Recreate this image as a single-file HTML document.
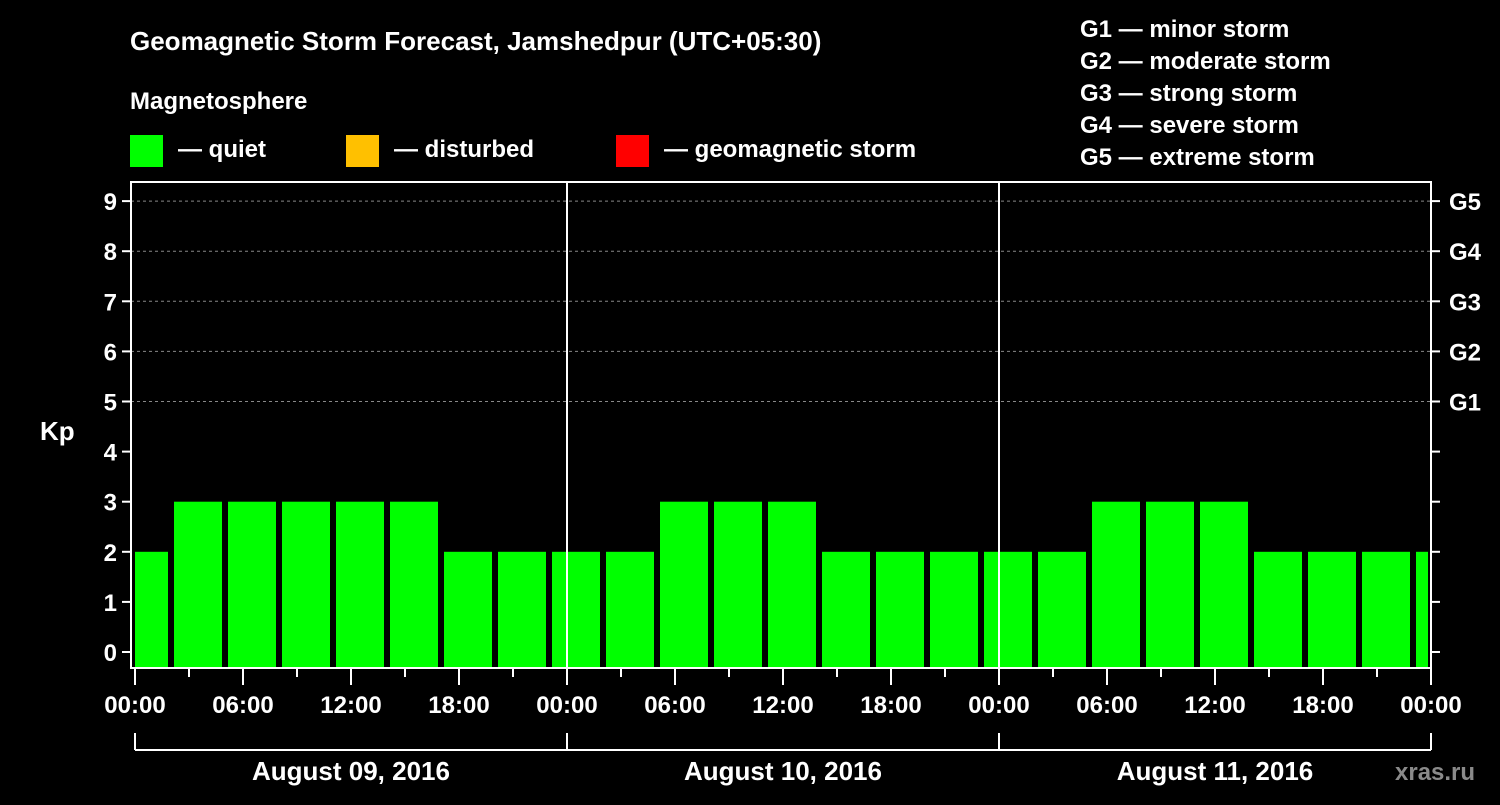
<!DOCTYPE html>
<html><head><meta charset="utf-8"><style>
body{margin:0;background:#000;width:1500px;height:800px;overflow:hidden}
text{font-family:"Liberation Sans",sans-serif;font-weight:bold;fill:#fff}
</style></head><body>
<svg id="c" width="1500" height="800">
<text x="130" y="50" font-size="26">Geomagnetic Storm Forecast, Jamshedpur (UTC+05:30)</text>
<text x="130" y="109" font-size="24">Magnetosphere</text>
<rect x="130" y="135" width="33" height="32" fill="#00ff00"/>
<text x="178" y="157" font-size="24">— quiet</text>
<rect x="346" y="135" width="33" height="32" fill="#ffc000"/>
<text x="394" y="157" font-size="24">— disturbed</text>
<rect x="616" y="135" width="33" height="32" fill="#ff0000"/>
<text x="664" y="157" font-size="24">— geomagnetic storm</text>
<g font-size="24">
<text x="1080" y="37">G1 — minor storm</text>
<text x="1080" y="69">G2 — moderate storm</text>
<text x="1080" y="101">G3 — strong storm</text>
<text x="1080" y="133">G4 — severe storm</text>
<text x="1080" y="165">G5 — extreme storm</text>
</g>
<text x="40" y="440" font-size="26">Kp</text>
<text x="1395" y="780" font-size="24" fill="#888" style="fill:#8a8a8a">xras.ru</text>
<g id="plot"></g>
</svg>
<script>
const kpValues=[2,3,3,3,3,3,2,2,2,2,3,3,3,2,2,2,2,2,3,3,3,2,2,2,2];
const yTicks=[0,1,2,3,4,5,6,7,8,9];
const gLabels=["G1","G2","G3","G4","G5"];
const dayLabels=["August 09, 2016","August 10, 2016","August 11, 2016"];
const hourLabels=["00:00","06:00","12:00","18:00"];
const NS="http://www.w3.org/2000/svg";
const g=document.getElementById('plot');
const L=131,R=1431,T=182,B=668,X0=135,dayW=432;
const x=h=>X0+h*18;
const y=v=>652-v*50.1;
function mk(tag,a){const e=document.createElementNS(NS,tag);for(const k in a)e.setAttribute(k,a[k]);g.appendChild(e);return e;}
// grid
for(const v of [5,6,7,8,9]){const e=mk('line',{x1:L,x2:R,y1:y(v),y2:y(v),stroke:'#888','stroke-dasharray':'3,3','stroke-width':1});

}
// bars: first bin ends at 02:00 local, then 3h bins
kpValues.forEach((v,i)=>{let h0=i==0?0:2+3*(i-1),h1=2+3*i;let x0=i==0?x(0):x(h0)+3,x1=Math.min(x(h1)-3,R-3);
const r=mk('rect',{x:x0,y:y(v),width:x1-x0,height:B-y(v),fill:'#00ff00'});

});
// frame
const f=mk('rect',{x:L,y:T,width:R-L,height:B-T,fill:'none',stroke:'#fff','stroke-width':2});


for(let d=1;d<3;d++){const e=mk('line',{x1:x(24*d),x2:x(24*d),y1:T,y2:B,stroke:'#fff','stroke-width':2});

}
// y ticks
yTicks.forEach(v=>{mk('line',{x1:L-9,x2:L,y1:y(v),y2:y(v),stroke:'#fff','stroke-width':2});
mk('line',{x1:R,x2:R+9,y1:y(v),y2:y(v),stroke:'#fff','stroke-width':2});
const t=mk('text',{x:L-14,y:y(v)+9,'text-anchor':'end','font-size':24});t.textContent=v;

});
gLabels.forEach((s,i)=>{const t=mk('text',{x:R+18,y:y(i+5)+9,'font-size':24});t.textContent=s;

});
// x ticks
for(let h=0;h<=72;h+=3){const major=h%6==0;mk('line',{x1:x(h),x2:x(h),y1:B,y2:B+(major?17:9),stroke:'#fff','stroke-width':2});
if(major&&h%6==0){const lab=hourLabels[(h%24)/6];const t=mk('text',{x:x(h),y:B+45,'text-anchor':'middle','font-size':24});t.textContent=lab;

}}
// day brackets
mk('line',{x1:x(0),x2:x(72),y1:750,y2:750,stroke:'#fff','stroke-width':2});
for(let d=0;d<=3;d++)mk('line',{x1:x(24*d),x2:x(24*d),y1:733,y2:750,stroke:'#fff','stroke-width':2});
dayLabels.forEach((s,d)=>{const t=mk('text',{x:x(24*d+12),y:780,'text-anchor':'middle','font-size':26});t.textContent=s;

});
</script>
</body></html>
